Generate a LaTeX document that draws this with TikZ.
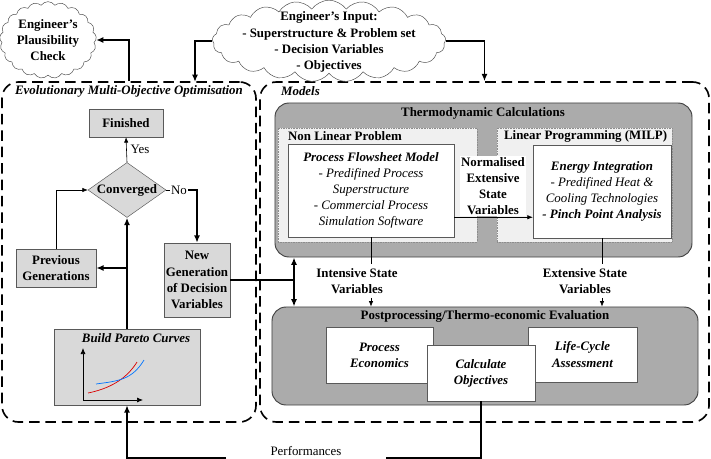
\documentclass[tikz,border=0pt]{standalone}
\usepackage{fontspec}
\setmainfont{Liberation Serif}
\usetikzlibrary{shapes.geometric,shapes.symbols,arrows.meta,positioning}

\begin{document}
\begin{tikzpicture}[x=0.03cm, y=-0.03cm,
  every node/.style={align=center, font=\fontsize{11}{13.8}\selectfont},
  bf/.style={font=\fontsize{11}{13.8}\selectfont\bfseries},
  bfit/.style={font=\fontsize{11}{13.8}\selectfont\bfseries\itshape},
  itl/.style={font=\fontsize{11}{13.8}\selectfont\itshape},
  greybox/.style={draw=black!65, fill=black!15, inner sep=1pt},
  whitebox/.style={draw=black!65, fill=white, inner sep=1pt},
  calcbox/.style={draw=black!75, fill=black!33, rounded corners=12pt, line width=0.8pt},
  probbox/.style={draw=black!45, densely dotted, fill=black!6},
  container/.style={draw, dash pattern=on 9pt off 5pt, line width=1.4pt, rounded corners=14pt},
  cloudy/.style={cloud, cloud puffs=21, cloud puff arc=110, cloud ignores aspect, draw=black!70, fill=white},
  thickline/.style={line width=1.4pt},
  arr/.style={-{Latex[length=2.2mm,width=1.8mm]}, thickline},
  thinarr/.style={-{Latex[length=1.6mm,width=1.3mm]}, line width=0.5pt}]
  \useasboundingbox (0,0) rectangle (711,459);

  % containers
  \node[container, minimum width=7.62cm, minimum height=10.2cm] (evo) at (129,252) {};
  \node[container, minimum width=13.47cm, minimum height=10.2cm] (mod) at (484.5,252) {};
  \node[bfit, anchor=west] (evolabel) at (11,91) {Evolutionary Multi-Objective Optimisation};
  \node[bfit, anchor=west] (modlabel) at (277,91) {Models};

  % engineer clouds
  \node[cloudy, minimum width=2.9cm, minimum height=2.3cm] (plaus) at (48,40) {};
  \node[bf] (plaustext) at (48,40) {Engineer’s\\Plausibility\\Check};
  \node[cloudy, minimum width=7.0cm, minimum height=2.45cm] (inp) at (329,41) {};
  \node[bf] (inptext) at (329,42) {Engineer’s Input:\\- Superstructure \& Problem set\\- Decision Variables\\- Objectives};
  \coordinate (evoin) at (195,82);
  \draw[arr] (evo.north) |- (plaus.east);
  \draw[arr] (inp.west) -| (evoin);
  \draw[arr] (inp.east) -| (mod.north);

  % optimisation loop
  \node[greybox, bf, minimum width=2.22cm, minimum height=0.84cm] (fin) at (126,123) {Finished};
  \node[diamond, greybox, bf, aspect=1.4, inner sep=0pt, minimum width=2.34cm, minimum height=1.65cm] (conv) at (127,190) {Converged};
  \node[greybox, bf, minimum width=2.4cm, minimum height=1.14cm] (prev) at (56,268) {Previous\\Generations};
  \node[greybox, bf, minimum width=1.98cm, minimum height=2.22cm] (newgen) at (197,280) {New\\Generation\\of Decision\\Variables};
  \node[greybox, minimum width=4.38cm, minimum height=2.28cm] (pareto) at (127,367) {};
  \node[bfit] (paretotitle) at (136,338) {Build Pareto Curves};
  \draw[{Latex[length=1.8mm,width=1.5mm]}-{Latex[length=1.8mm,width=1.5mm]}, line width=0.6pt] (83,348) |- (143,400);
  \draw[red!85!black, line width=0.6pt] (88,393) .. controls (108,389) and (126,380) .. (137,362);
  \draw[blue!55!cyan, line width=0.6pt] (96,384) .. controls (118,381) and (132,380) .. (144,360);

  \node (no) at (179,190) [inner sep=1pt] {No};
  \draw[thinarr] (conv.north) -- (fin.south) node[midway, right] (yes) {Yes};
  \draw[line width=0.5pt] (conv.east) -- (no.west);
  \draw[arr] (no.east) -| (newgen.north);
  \draw[arr] (pareto.north) -- (conv.south);
  \draw[arr] (pareto.north |- prev.east) -- (prev.east);
  \draw[thinarr] (prev.north) |- (conv.west);

  % thermodynamic calculations
  \node[calcbox, minimum width=12.51cm, minimum height=4.62cm] (thermo) at (483.5,180) {};
  \node[bf] (thermotitle) at (483,113) {Thermodynamic Calculations};
  \node[probbox, minimum width=5.97cm, minimum height=3.42cm] (nlp) at (377.5,185) {};
  \node[bf, anchor=west] (nlptitle) at (284,136) {Non Linear Problem};
  \node[probbox, minimum width=5.25cm, minimum height=3.42cm] (lp) at (584.5,185) {};
  \node[bf, anchor=west] (lptitle) at (500,136) {Linear Programming (MILP)};
  \node[whitebox, itl, minimum width=4.98cm, minimum height=2.79cm] (pfm) at (371,190.5)
    {\textbf{Process Flowsheet Model}\\- Predifined Process\\Superstructure\\- Commercial Process\\Simulation Software};
  \node[whitebox, itl, minimum width=4.14cm, minimum height=2.79cm] (ei) at (602,191.5)
    {\textbf{Energy Integration}\\- Predifined Heat \&\\Cooling Technologies\\\textbf{- Pinch Point Analysis}};
  \node[bf, fill=white, inner sep=1pt] (nesv) at (493,186) {Normalised\\Extensive\\State\\Variables};
  \draw[thinarr] ([yshift=0.6cm]pfm.south east) -- ([yshift=0.6cm]pfm.south east -| ei.west);

  % postprocessing
  \node[calcbox, minimum width=12.78cm, minimum height=2.94cm] (post) at (485,356) {};
  \node[bf] (posttitle) at (485,316) {Postprocessing/Thermo-economic Evaluation};
  \node[whitebox, bfit, minimum width=3.21cm, minimum height=1.68cm] (econ) at (379.5,355) {Process\\Economics};
  \node[whitebox, bfit, minimum width=3.27cm, minimum height=1.65cm] (lca) at (582.5,354.5) {Life-Cycle\\Assessment};
  \node[whitebox, bfit, minimum width=3.24cm, minimum height=1.68cm] (calc) at (481,373) {Calculate\\Objectives};

  \node[bf] (isv) at (357,281) {Intensive State\\Variables};
  \node[bf] (esv) at (585,281) {Extensive State\\Variables};
  \draw[line width=0.6pt] (pfm.south) -- (pfm.south |- isv.north);
  \draw[thinarr] (pfm.south |- isv.south) -- (pfm.south |- post.north);
  \draw[line width=0.6pt] (ei.south) -- (ei.south |- esv.north);
  \draw[thinarr] (ei.south |- esv.south) -- (ei.south |- post.north);

  \coordinate (split) at (294,280);
  \draw[thickline] (newgen.east) -- (split);
  \draw[{Latex[length=2.2mm,width=1.8mm]}-{Latex[length=2.2mm,width=1.8mm]}, thickline] (split |- thermo.south) -- (split |- post.north);

  % performances back to pareto
  \node (perf) at (306,451) {Performances};
  \coordinate (perfright) at (386,458);
  \coordinate (perfleft) at (226,458);
  \draw[thickline] (calc.south) |- (perfright);
  \draw[arr] (perfleft) -| (pareto.south);
\end{tikzpicture}
\end{document}
